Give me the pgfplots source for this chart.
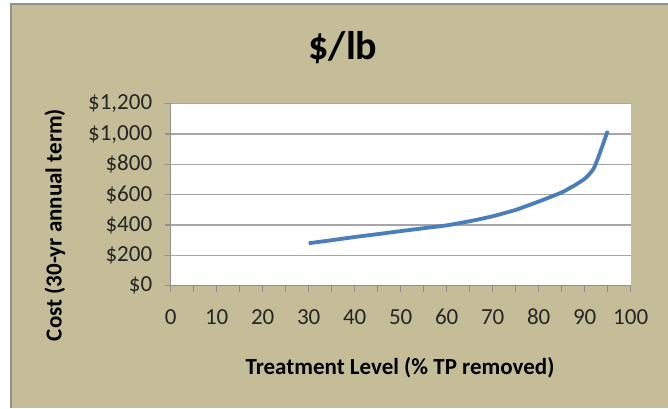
\documentclass[border=0pt]{standalone}
\usepackage{fontspec}
\setmainfont{Carlito}
\usepackage{pgfplots}
\pgfplotsset{compat=1.18}
\definecolor{tanbg}{HTML}{C4BD97}
\definecolor{gridg}{HTML}{A6A6A6}
\definecolor{axg}{HTML}{909090}
\definecolor{lineblue}{HTML}{4A7EBB}
\begin{document}
\begin{tikzpicture}[x=1pt,y=1pt]
\useasboundingbox (0,0) rectangle (668,408);
\fill[white] (0,0) rectangle (668,408);
\fill[tanbg] (11,0) rectangle (668,404);
\draw[color=axg,line width=2pt] (11,0) -- (11,404) -- (668,404);
\begin{axis}[
  at={(170.7pt,122.3pt)}, anchor=south west,
  scale only axis, width=460pt, height=182pt,
  xmin=0, xmax=100, ymin=0, ymax=1200,
  axis x line*=bottom, axis y line*=left,
  axis line style={color=axg, line width=1.2pt},
  axis background/.style={fill=white},
  xtick={0,10,...,100}, minor xtick={5,15,...,95},
  ytick={0,200,...,1200},
  yticklabels={{\$0},{\$200},{\$400},{\$600},{\$800},{\$1,000},{\$1,200}},
  tick align=outside,
  major tick length=6pt, minor tick length=6pt,
  tick style={color=axg, line width=1.2pt},
  ymajorgrids, grid style={color=gridg, line width=1.2pt},
  /pgf/number format/assume math mode=true,
  ticklabel style={font=\fontsize{23}{27}\selectfont, text=black!85},
  xticklabel style={text height=15pt, text depth=0pt, anchor=north, yshift=-14pt},
  yticklabel style={xshift=-9pt},
  clip=false,
]
\addplot[color=lineblue, line width=3.8pt, smooth, tension=0.3] coordinates {
(30,280) (35,300) (40,321) (45,340) (50,360) (55,379) (60,398) (65,425) (70,458) (75,500) (80,555) (85,615) (88,665) (90,705) (91,735) (92,775) (93,850) (94,935) (95,1020)
};
\end{axis}
\node[font=\fontsize{40}{46}\selectfont\bfseries] at (343,360) {\$/lb};
\node[font=\fontsize{23}{27}\selectfont\bfseries] at (400,40) {Treatment Level (\% TP removed)};
\node[font=\fontsize{23}{27}\selectfont\bfseries, rotate=90] at (55,183) {Cost (30-yr annual term)};
\end{tikzpicture}
\end{document}
